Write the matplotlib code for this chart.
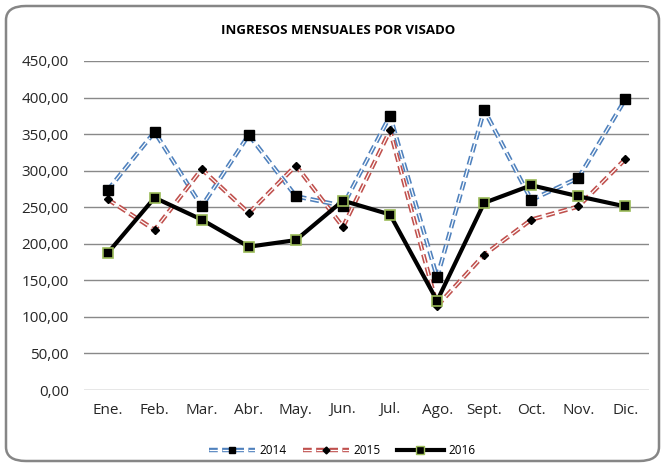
import matplotlib
matplotlib.use('Agg')
import matplotlib.pyplot as plt
import matplotlib.patheffects as pe
from matplotlib.patches import FancyBboxPatch
from matplotlib.lines import Line2D
from matplotlib.legend_handler import HandlerTuple
from matplotlib.ticker import FuncFormatter

plt.rcParams['font.family'] = ['Open Sans', 'DejaVu Sans']

# data
months = ['Ene.', 'Feb.', 'Mar.', 'Abr.', 'May.', 'Jun.', 'Jul.', 'Ago.', 'Sept.', 'Oct.', 'Nov.', 'Dic.']
v2014 = [273, 353, 251, 349, 265, 252, 375, 154, 383, 260, 290, 398]
v2015 = [261, 219, 302, 242, 307, 223, 355, 115, 185, 233, 251, 316]
v2016 = [187, 263, 233, 196, 205, 259, 240, 122, 256, 280, 265, 251]

blue = '#4f81bd'
red = '#c0504d'
green = '#9bbb59'

fig = plt.figure(figsize=(6.65, 4.67), dpi=100)
ax = fig.add_axes([84/665, 77/467, 565/665, 329/467])

# rounded border round the chart
fig.patches.append(FancyBboxPatch((6/665, 6/467), 653/665, 455/467,
                                  boxstyle='round,pad=0,rounding_size=0.03',
                                  transform=fig.transFigure, fill=False,
                                  edgecolor='#868686', linewidth=1.8, zorder=0))

x = range(len(months))

def double_line(vals, color):
    # Excel style double dashed line: wide coloured stroke with a thin white core
    ln, = ax.plot(x, vals, color='white', linewidth=0.9, dashes=(7, 3.5), zorder=3,
                  path_effects=[pe.Stroke(linewidth=3.2, foreground=color), pe.Normal()])
    return ln

l14 = double_line(v2014, blue)
ax.plot(x, v2014, linestyle='none', marker='s', markersize=7, color='black', zorder=5)
l15 = double_line(v2015, red)
ax.plot(x, v2015, linestyle='none', marker='D', markersize=4, color='black', zorder=5)
l16, = ax.plot(x, v2016, color='black', linewidth=3, zorder=4)
ax.plot(x, v2016, linestyle='none', marker='s', markersize=7,
        markerfacecolor='black', markeredgecolor=green, markeredgewidth=1.2, zorder=6)

# smaller markers for the legend keys
k14 = Line2D([], [], linestyle='none', marker='s', markersize=5, color='black')
k15 = Line2D([], [], linestyle='none', marker='D', markersize=3.5, color='black')
k16 = Line2D([], [], linestyle='none', marker='s', markersize=5.5, markerfacecolor='black',
             markeredgecolor=green, markeredgewidth=1)

ax.set_ylim(0, 450)
ax.set_yticks(range(0, 451, 50))
ax.yaxis.set_major_formatter(FuncFormatter(lambda v, p: ('%.2f' % v).replace('.', ',')))
ax.set_xlim(-0.5, len(months) - 0.5)
ax.set_xticks(list(x))
ax.set_xticklabels(months)
ax.tick_params(length=0, labelsize=11, colors='#262626')
ax.tick_params(axis='y', pad=11)
ax.tick_params(axis='x', pad=9)
ax.grid(axis='y', color='#898989', linewidth=1)
ax.set_axisbelow(True)
for s in ax.spines.values():
    s.set_visible(False)

fig.text(338/665, 1 - 30/467, 'INGRESOS MENSUALES POR VISADO', ha='center', va='center',
         fontsize=9.5, fontweight='bold', color='black')

fig.legend([(l14, k14), (l15, k15), (l16, k16)], ['2014', '2015', '2016'],
           handler_map={tuple: HandlerTuple(ndivide=1)},
           loc='center', bbox_to_anchor=(342/665, 1 - 451/467), ncol=3,
           frameon=False, fontsize=8.5, handlelength=3.9, columnspacing=1.4,
           handletextpad=0.4)

fig.savefig('out.png', dpi=100)
